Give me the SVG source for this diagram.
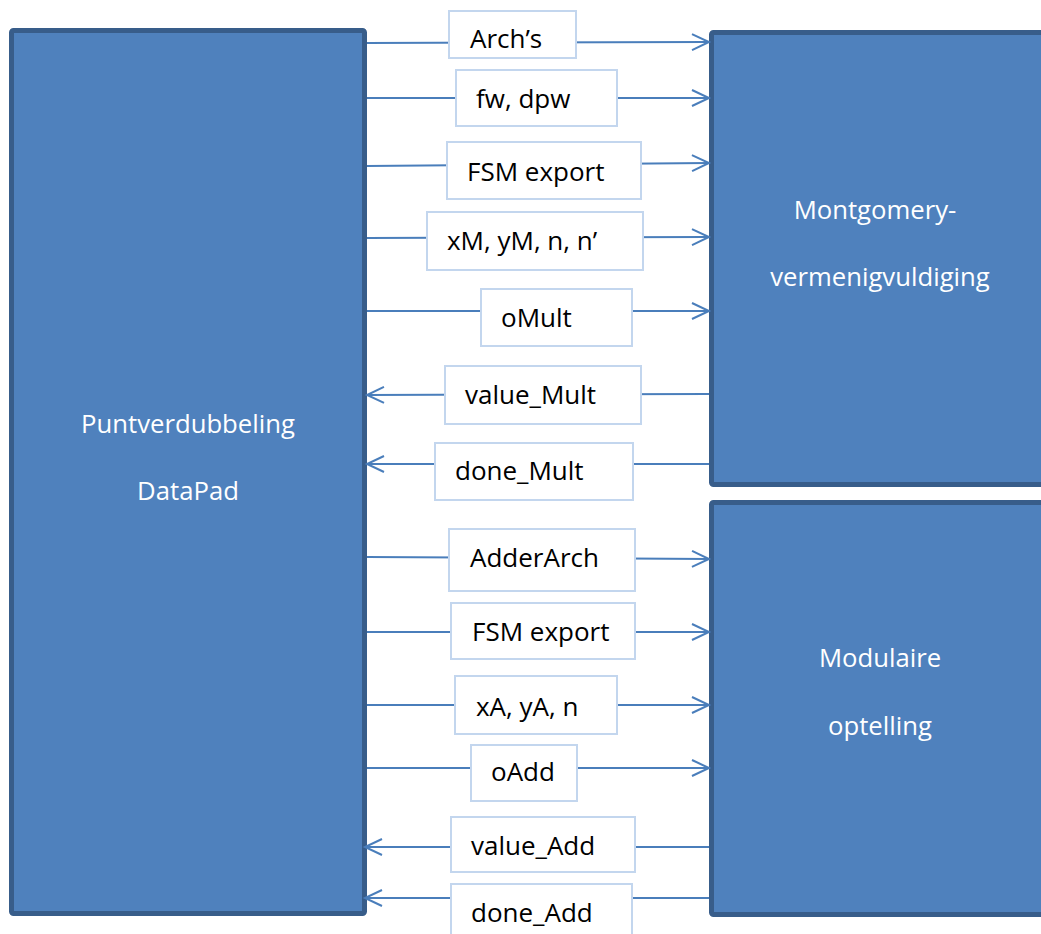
<svg xmlns="http://www.w3.org/2000/svg" width="1041" height="934" viewBox="0 0 1041 934">
  <style>
    .block { fill: #4F81BD; stroke: #385D8A; stroke-width: 5; }
    .blockText { font-family: "Open Sans", "Liberation Sans", sans-serif; font-size: 25.7px; fill: #FFFFFF; text-anchor: middle; }
    .wire { stroke: #4A7EBB; stroke-width: 2; fill: none; }
    .tag { fill: #FFFFFF; stroke: #C3D6EE; stroke-width: 2; }
    .tagText { font-family: "Open Sans", "Liberation Sans", sans-serif; font-size: 26px; fill: #000000; }
  </style>
  <defs>
    <marker id="chevron" markerUnits="userSpaceOnUse" markerWidth="24" markerHeight="24" viewBox="-20 -12 24 24" refX="0" refY="0" orient="auto">
      <path d="M-17,-8 L0,0 L-17,8" fill="none" stroke="#4A7EBB" stroke-width="2"/>
    </marker>
  </defs>

  <rect width="1041" height="934" fill="#FFFFFF"/>

  <!-- functional blocks -->
  <g id="datapad">
    <rect class="block" x="11.5" y="30.5" width="353" height="883" rx="2"/>
    <text class="blockText" x="188" y="433">Puntverdubbeling</text>
    <text class="blockText" x="188" y="500">DataPad</text>
  </g>
  <g id="montgomery">
    <rect class="block" x="711.5" y="32.5" width="400" height="452" rx="2"/>
    <text class="blockText" x="875" y="219">Montgomery-</text>
    <text class="blockText" x="880" y="286">vermenigvuldiging</text>
  </g>
  <g id="modadd">
    <rect class="block" x="711.5" y="502.5" width="400" height="412" rx="2"/>
    <text class="blockText" x="880" y="667">Modulaire</text>
    <text class="blockText" x="880" y="735">optelling</text>
  </g>

  <!-- signal wires between the blocks -->
  <g id="connectors">
    <line class="wire" x1="367" y1="43" x2="709" y2="42" marker-end="url(#chevron)"/>
    <line class="wire" x1="367" y1="98" x2="709" y2="98" marker-end="url(#chevron)"/>
    <line class="wire" x1="367" y1="166" x2="709" y2="163" marker-end="url(#chevron)"/>
    <line class="wire" x1="367" y1="238" x2="709" y2="237" marker-end="url(#chevron)"/>
    <line class="wire" x1="367" y1="311" x2="709" y2="311" marker-end="url(#chevron)"/>
    <line class="wire" x1="709" y1="394" x2="367" y2="395" marker-end="url(#chevron)"/>
    <line class="wire" x1="709" y1="464" x2="367" y2="464" marker-end="url(#chevron)"/>
    <line class="wire" x1="367" y1="557" x2="709" y2="559" marker-end="url(#chevron)"/>
    <line class="wire" x1="367" y1="632" x2="709" y2="632" marker-end="url(#chevron)"/>
    <line class="wire" x1="367" y1="705" x2="709" y2="705" marker-end="url(#chevron)"/>
    <line class="wire" x1="367" y1="768" x2="709" y2="768" marker-end="url(#chevron)"/>
    <line class="wire" x1="709" y1="847" x2="365" y2="847" marker-end="url(#chevron)"/>
    <line class="wire" x1="709" y1="898" x2="365" y2="898" marker-end="url(#chevron)"/>
  </g>

  <!-- signal labels -->
  <g id="lbl-arch">
    <rect class="tag" x="449" y="11" width="127" height="47"/>
    <text class="tagText" x="470" y="48">Arch’s</text>
  </g>
  <g id="lbl-fw">
    <rect class="tag" x="456" y="70" width="161" height="56"/>
    <text class="tagText" x="476" y="108">fw, dpw</text>
  </g>
  <g id="lbl-fsm1">
    <rect class="tag" x="447" y="142" width="194" height="57"/>
    <text class="tagText" x="467" y="181">FSM export</text>
  </g>
  <g id="lbl-xm">
    <rect class="tag" x="427" y="212" width="216" height="58"/>
    <text class="tagText" x="447" y="250">xM, yM, n, n’</text>
  </g>
  <g id="lbl-omult">
    <rect class="tag" x="481" y="289" width="151" height="57"/>
    <text class="tagText" x="501" y="327">oMult</text>
  </g>
  <g id="lbl-valuemult">
    <rect class="tag" x="445" y="366" width="196" height="58"/>
    <text class="tagText" x="465" y="404">value_Mult</text>
  </g>
  <g id="lbl-donemult">
    <rect class="tag" x="435" y="443" width="198" height="57"/>
    <text class="tagText" x="455" y="480">done_Mult</text>
  </g>
  <g id="lbl-adderarch">
    <rect class="tag" x="449" y="529" width="186" height="62"/>
    <text class="tagText" x="470" y="567">AdderArch</text>
  </g>
  <g id="lbl-fsm2">
    <rect class="tag" x="451" y="603" width="184" height="56"/>
    <text class="tagText" x="472" y="641">FSM export</text>
  </g>
  <g id="lbl-xa">
    <rect class="tag" x="455" y="676" width="162" height="58"/>
    <text class="tagText" x="476" y="716">xA, yA, n</text>
  </g>
  <g id="lbl-oadd">
    <rect class="tag" x="471" y="745" width="106" height="56"/>
    <text class="tagText" x="491" y="781">oAdd</text>
  </g>
  <g id="lbl-valueadd">
    <rect class="tag" x="451" y="817" width="184" height="55"/>
    <text class="tagText" x="471" y="855">value_Add</text>
  </g>
  <g id="lbl-doneadd">
    <rect class="tag" x="451" y="884" width="181" height="60"/>
    <text class="tagText" x="471" y="922">done_Add</text>
  </g>
</svg>
